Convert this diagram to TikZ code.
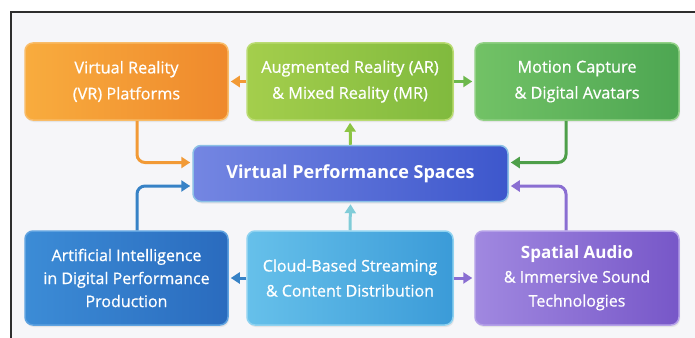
\documentclass[tikz,border=0pt]{standalone}
\usepackage{fontspec}
\setmainfont{Open Sans}
\newfontfamily\medfont{Open Sans}[FakeBold=0.7]
\usetikzlibrary{arrows.meta,shadows}
\definecolor{bgc}{HTML}{F6F6F9}
\definecolor{framec}{HTML}{2E2E2E}
\definecolor{vrL}{HTML}{F8AC3E}\definecolor{vrR}{HTML}{EF892C}\definecolor{vrB}{HTML}{F9BC68}
\definecolor{arL}{HTML}{A4CE4C}\definecolor{arR}{HTML}{80BA3E}\definecolor{arB}{HTML}{BADB72}
\definecolor{mcL}{HTML}{72C266}\definecolor{mcR}{HTML}{4DA652}\definecolor{mcB}{HTML}{92D186}
\definecolor{ctL}{HTML}{7486E2}\definecolor{ctR}{HTML}{3D57CC}\definecolor{ctB}{HTML}{8CC0E6}
\definecolor{aiL}{HTML}{3C8CD6}\definecolor{aiR}{HTML}{2A6BBE}\definecolor{aiB}{HTML}{5EA2E0}
\definecolor{clL}{HTML}{66C0EA}\definecolor{clR}{HTML}{3B9BD8}\definecolor{clB}{HTML}{8ED2F0}
\definecolor{saL}{HTML}{A088E0}\definecolor{saR}{HTML}{7757C8}\definecolor{saB}{HTML}{B4A0E8}
\definecolor{aOr}{HTML}{F29A36}
\definecolor{aGr}{HTML}{6CB84C}
\definecolor{aGy}{HTML}{8CC443}
\definecolor{aGd}{HTML}{4E9F4A}
\definecolor{aBl}{HTML}{3782C6}
\definecolor{aPu}{HTML}{8A6ED2}
\definecolor{aTe}{HTML}{80CCD8}
\begin{document}
\begin{tikzpicture}[x=1pt,y=-1pt,
  box/.style={rounded corners=8pt, draw, line width=1.5pt, text=white, align=center,
    font=\medfont\fontsize{16.3}{26}\selectfont, inner sep=0pt,
    drop shadow={opacity=0.15, shadow xshift=1pt, shadow yshift=-2pt}},
  link/.style={line width=3pt, -{Triangle[length=9pt,width=11pt]}, rounded corners=8pt, shorten >=2pt}
]
\useasboundingbox (0,0) rectangle (695,337);
\fill[white] (0,0) rectangle (695,337);
\fill[bgc] (11,12) rectangle (700,342);
\draw[framec, line width=2pt] (11,342) -- (11,12) -- (700,12);

\node[box, draw=vrB, left color=vrL, right color=vrR, minimum width=203pt, minimum height=77pt] (vr) at (126.5,81.5) {Virtual Reality\\(VR) Platforms};
\node[box, draw=arB, left color=arL, right color=arR, minimum width=206pt, minimum height=77pt] (ar) at (350,81.5) {Augmented Reality (AR)\\\& Mixed Reality (MR)};
\node[box, draw=mcB, left color=mcL, right color=mcR, minimum width=204pt, minimum height=77pt] (mc) at (577,81.5) {Motion Capture\\\& Digital Avatars};
\node[box, draw=ctB, left color=ctL, right color=ctR, minimum width=315pt, minimum height=56pt, font=\rmfamily\fontsize{18}{22}\selectfont\bfseries] (ctr) at (350.5,173.5) {Virtual Performance Spaces};
\node[box, draw=aiB, left color=aiL, right color=aiR, minimum width=203pt, minimum height=94pt, font=\medfont\fontsize{16}{23}\selectfont] (ai) at (126.5,278) {Artificial Intelligence\\in Digital Performance\\Production};
\node[box, draw=clB, left color=clL, right color=clR, minimum width=206pt, minimum height=94pt, font=\medfont\fontsize{16}{25}\selectfont] (cl) at (350,278) {Cloud-Based Streaming\\\& Content Distribution};
\node[box, draw=saB, left color=saL, right color=saR, minimum width=204pt, minimum height=94pt, font=\medfont\fontsize{16}{24}\selectfont] (sa) at (577,278) {{\rmfamily\fontsize{17}{24}\selectfont\bfseries Spatial Audio}\\\& Immersive Sound\\Technologies};

\draw[link, aOr] (ar.west) -- (vr.east);
\draw[link, aGr] (ar.east) -- (mc.west);
\draw[link, aGy] (ctr.north) -- (ar.south);
\draw[link, aOr] ([xshift=10.5pt]vr.south) |- ([yshift=11pt]ctr.west);
\draw[link, aBl] ([xshift=10.5pt]ai.north) |- ([yshift=-12.5pt]ctr.west);
\draw[link, aGd] ([xshift=-11pt]mc.south) |- ([yshift=11pt]ctr.east);
\draw[link, aPu] ([xshift=-11pt]sa.north) |- ([yshift=-12.5pt]ctr.east);
\draw[link, aTe] (cl.north) -- (ctr.south);
\draw[link, aBl] (cl.west) -- (ai.east);
\draw[link, aPu] (cl.east) -- (sa.west);
\end{tikzpicture}
\end{document}
